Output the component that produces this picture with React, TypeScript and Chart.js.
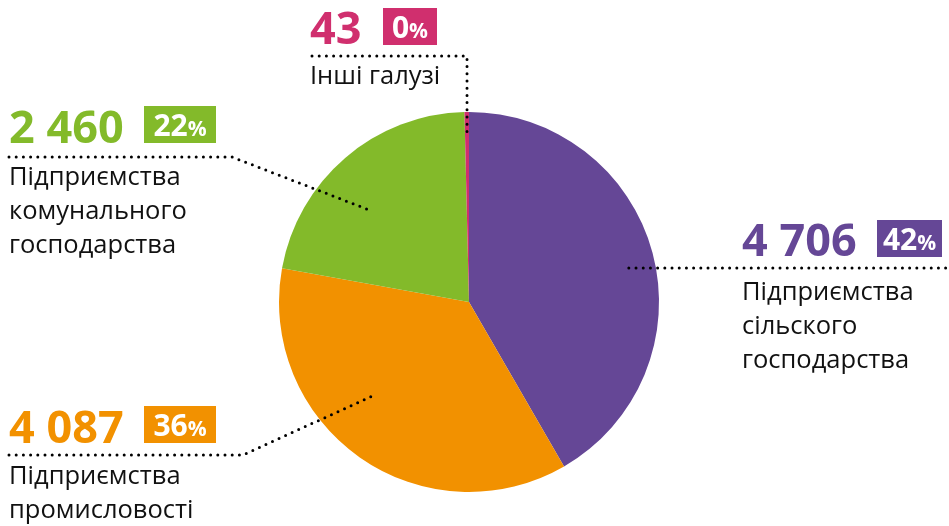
import React, { useEffect, useRef } from "react";
import { Chart, registerables } from "chart.js";

Chart.register(...registerables);

const categories = [
  "Підприємства сільского господарства",
  "Підприємства промисловості",
  "Підприємства комунального господарства",
  "Інші галузі",
];
const values = [4706, 4087, 2460, 43];
const colors = ["#654796", "#f29100", "#83ba2a", "#d02f6e"];
const labelLines = [
  ["Підприємства", "сільского", "господарства"],
  ["Підприємства", "промисловості"],
  ["Підприємства", "комунального", "господарства"],
  ["Інші галузі"],
];

// layout for annotations: text origin, box, leader path
const layoutCfg = [
  { x: 742, numBase: 256, box: [877, 220, 65, 37], lineY: 269, textBase: 300, lh: 34, t: 0.52, rf: 0.86, side: "right" },
  { x: 9, numBase: 443, box: [144, 406, 72, 37], lineY: 455, textBase: 484, lh: 34, t: 0.58, rf: 0.7, side: "left", elbow: 243 },
  { x: 9, numBase: 143, box: [144, 106, 72, 37], lineY: 157, textBase: 185, lh: 34, t: 0.42, rf: 0.7, side: "left", elbow: 232 },
  { x: 310, numBase: 44, box: [383, 8, 54, 37], lineY: 56, textBase: 84, lh: 34, t: 0.5, rf: 0.87, side: "top" },
];

const FONT = "'Open Sans', 'Noto Sans', sans-serif";

function fmt(n: number) {
  return String(n).replace(/\B(?=(\d{3})+(?!\d))/g, " ");
}

const labelPlugin = {
  id: "labelPlugin",
  afterDraw(chart: any) {
    const ctx = chart.ctx as CanvasRenderingContext2D;
    const meta = chart.getDatasetMeta(0);
    const total = values.reduce((a, b) => a + b, 0);
    meta.data.forEach((arc: any, i: number) => {
      const L = layoutCfg[i];
      const { x: cx, y: cy, startAngle, endAngle, outerRadius } = arc.getProps(
        ["x", "y", "startAngle", "endAngle", "outerRadius"],
        true
      );
      const a = startAngle + L.t * (endAngle - startAngle);
      const ax = cx + Math.cos(a) * outerRadius * L.rf;
      const ay = cy + Math.sin(a) * outerRadius * L.rf;

      // leader
      ctx.save();
      ctx.strokeStyle = "#000";
      ctx.lineWidth = 3;
      ctx.lineCap = "round";
      ctx.setLineDash([0, 7.2]);
      ctx.beginPath();
      if (L.side === "right") {
        ctx.moveTo(ax, ay);
        ctx.lineTo(948, ay);
      } else if (L.side === "left") {
        ctx.moveTo(9, L.lineY);
        ctx.lineTo(L.elbow as number, L.lineY);
        ctx.lineTo(ax, ay);
      } else {
        ctx.moveTo(312, L.lineY);
        ctx.lineTo(ax, L.lineY);
        ctx.lineTo(ax, ay);
      }
      ctx.stroke();
      ctx.restore();

      // number
      ctx.save();
      ctx.fillStyle = colors[i];
      ctx.font = `bold 45px ${FONT}`;
      ctx.textBaseline = "alphabetic";
      ctx.textAlign = "left";
      ctx.fillText(fmt(values[i]), L.x, L.numBase);

      // percent box
      const [bx, by, bw, bh] = L.box;
      ctx.fillRect(bx, by, bw, bh);
      const pct = String(Math.round((values[i] / total) * 100));
      ctx.fillStyle = "#fff";
      ctx.font = `bold 30px ${FONT}`;
      const w1 = ctx.measureText(pct).width;
      ctx.font = `bold 21px ${FONT}`;
      const w2 = ctx.measureText("%").width;
      const sx = bx + (bw - w1 - w2) / 2;
      const base = by + bh - 7;
      ctx.font = `bold 30px ${FONT}`;
      ctx.fillText(pct, sx, base);
      ctx.font = `bold 21px ${FONT}`;
      ctx.fillText("%", sx + w1, base);

      // text lines
      ctx.fillStyle = "#111";
      ctx.font = `25.5px ${FONT}`;
      labelLines[i].forEach((ln, k) => {
        ctx.fillText(ln, L.x, L.textBase + k * L.lh);
      });
      ctx.restore();
    });
  },
};

export default function App() {
  const ref = useRef<HTMLCanvasElement | null>(null);
  useEffect(() => {
    if (!ref.current) return;
    const chart = new Chart(ref.current, {
      type: "pie",
      data: {
        labels: categories,
        datasets: [
          {
            data: values,
            backgroundColor: colors,
            borderWidth: 0,
          },
        ],
      },
      options: {
        responsive: false,
        animation: false,
        layout: { padding: { left: 279, right: 290, top: 112, bottom: 34 } },
        plugins: {
          legend: { display: false },
          tooltip: { enabled: false },
        },
      },
      plugins: [labelPlugin],
    });
    return () => chart.destroy();
  }, []);
  return (
    <div style={{ position: "absolute", left: 0, top: 0, width: 949, height: 526, background: "#fff" }}>
      <canvas ref={ref} width={949} height={526} style={{ display: "block" }} />
    </div>
  );
}
